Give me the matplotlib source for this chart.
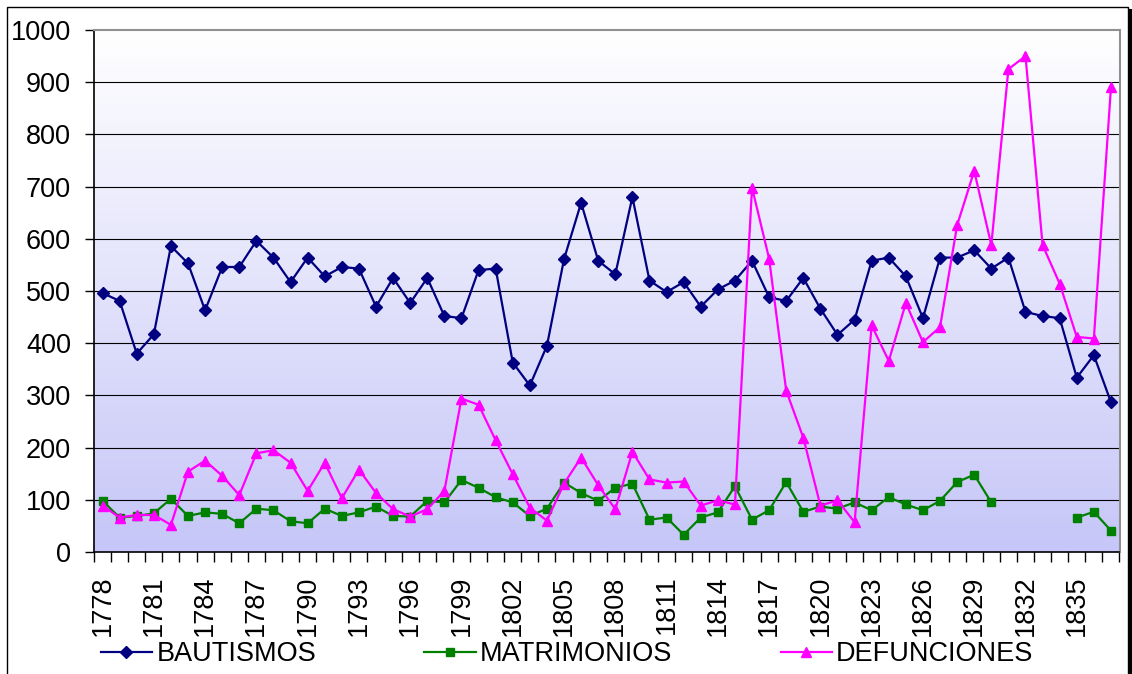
import matplotlib.pyplot as plt
from matplotlib.patches import Rectangle
from matplotlib.lines import Line2D
import numpy as np

plt.rcParams['font.family'] = ['Liberation Sans', 'DejaVu Sans']

years = list(range(1778, 1838))

bautismos = [496, 481, 380, 417, 586, 553, 463, 546, 546, 596,
             564, 517, 564, 528, 546, 543, 470, 525, 477, 525,
             452, 448, 540, 543, 363, 319, 395, 561, 669, 558,
             532, 680, 520, 498, 517, 470, 503, 520, 558, 488,
             481, 525, 466, 416, 445, 558, 564, 528, 448, 564,
             564, 578, 543, 564, 460, 452, 448, 334, 377, 287]

matrimonios = [98, 66, 69, 74, 102, 69, 76, 73, 55, 83,
               80, 59, 55, 83, 69, 76, 87, 69, 68, 98,
               95, 138, 123, 105, 95, 69, 83, 133, 113, 98,
               123, 131, 62, 66, 33, 66, 76, 126, 62, 80,
               134, 77, 87, 83, 95, 80, 105, 91, 80, 98,
               134, 148, 95, np.nan, np.nan, np.nan, np.nan, 66, 77, 41]

defunciones = [89, 66, 71, 71, 52, 154, 175, 146, 109, 189,
               195, 171, 117, 171, 103, 158, 113, 82, 68, 82,
               117, 294, 282, 214, 149, 85, 60, 131, 181, 128,
               82, 192, 139, 133, 135, 89, 99, 91, 698, 562,
               309, 219, 89, 99, 57, 434, 366, 477, 402, 431,
               626, 730, 588, 925, 950, 588, 514, 412, 409, 890]

series = [
    ("BAUTISMOS", bautismos, "#000080", "D", 6.5),
    ("MATRIMONIOS", matrimonios, "#008000", "s", 5.5),
    ("DEFUNCIONES", defunciones, "#FF00FF", "^", 7.5),
]

fig = plt.figure(figsize=(11.32, 6.74), dpi=100)
ax = fig.add_axes([94 / 1132, 122 / 674, 1025.5 / 1132, 522 / 674])

x = np.arange(len(years))

# degradado del fondo
grad = np.linspace(0, 1, 256)[:, None]
top = np.array([1.0, 1.0, 1.0])
bot = np.array([198, 198, 248]) / 255
img = top[None, None, :] * (1 - grad[:, :, None]) + bot[None, None, :] * grad[:, :, None]
ax.imshow(img, extent=[-0.5, len(years) - 0.5, 0, 1000], aspect='auto', zorder=0)

for v in range(100, 1000, 100):
    ax.axhline(v, color='black', lw=0.8, zorder=1)

for name, vals, col, mk, ms in series:
    ax.plot(x, vals, color=col, lw=1.6, marker=mk, markersize=ms,
            label=name, zorder=3)

ax.set_xlim(-0.5, len(years) - 0.5)
ax.set_ylim(0, 1000)
ax.set_yticks(range(0, 1001, 100))
ax.tick_params(axis='y', labelsize=19.5, length=6.5, width=1, direction='out', pad=10)

ax.set_xticks(x[::3])
ax.set_xticklabels([str(y) for y in years[::3]], rotation=90)
ax.set_xticks(np.arange(-0.5, len(years)), minor=True)
ax.tick_params(axis='x', which='major', length=0, labelsize=19.5, pad=17)
ax.tick_params(axis='x', which='minor', length=7, width=1, direction='out')

for s in ['top', 'right']:
    ax.spines[s].set_color('#909090')
    ax.spines[s].set_linewidth(1.5)
for s in ['left', 'bottom']:
    ax.spines[s].set_color('black')
    ax.spines[s].set_linewidth(1.2)

fig.legend(loc='center', bbox_to_anchor=(0.501, 20 / 674), ncol=3, frameon=False,
           fontsize=19.5, handlelength=1.9, handletextpad=0.15, columnspacing=4.0,
           borderaxespad=0)

# marco exterior con sombra
fig.patches.append(Rectangle((7 / 1132, -0.05), 1121 / 1132, 1.05 - 7 / 674,
                             transform=fig.transFigure, fill=False,
                             edgecolor='black', lw=1))
fig.lines.append(Line2D([1130 / 1132, 1130 / 1132], [-0.05, 1 - 10 / 674],
                        transform=fig.transFigure, color='black', lw=2.2))

fig.savefig('out.png', dpi=100)
